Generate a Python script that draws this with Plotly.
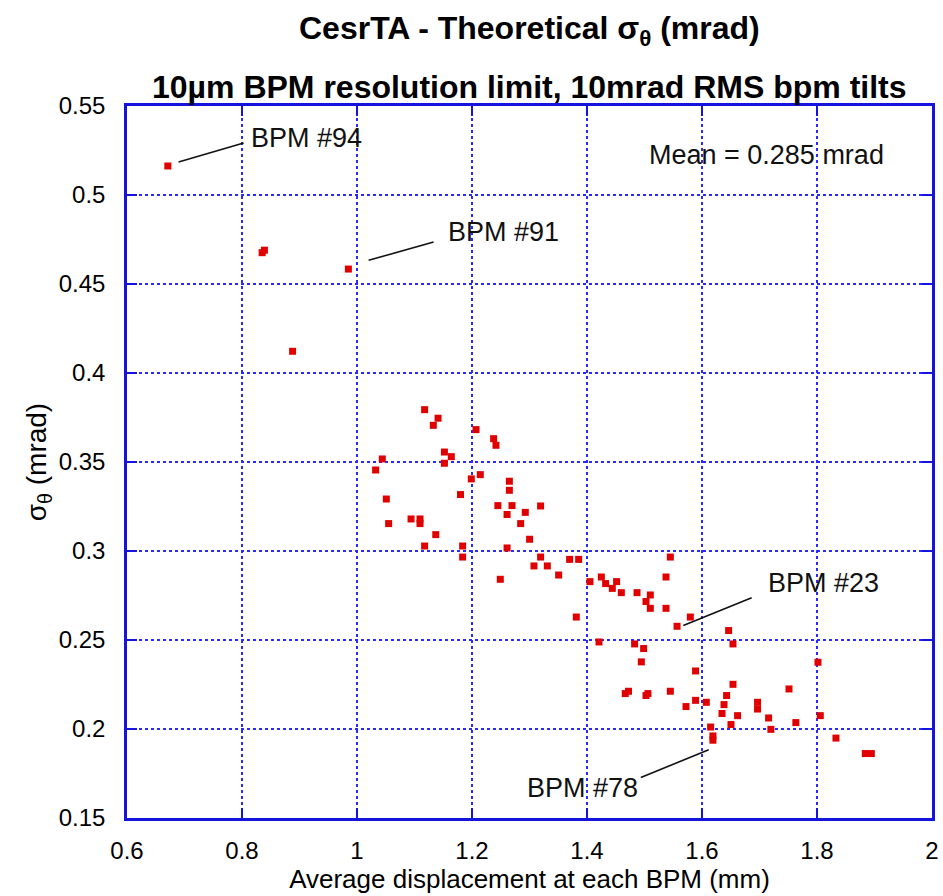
import plotly.graph_objects as go

# ---- data ----
disp_mm = [0.671, 0.835, 0.839, 0.985, 0.888, 1.1176, 1.141, 1.1327, 1.207, 1.2376,
           1.2417, 1.152, 1.164, 1.152, 1.044, 1.0324, 1.1988, 1.2144, 1.265, 1.265,
           1.18, 1.051, 1.245, 1.2696, 1.261, 1.3193, 1.2927, 1.2846, 1.094, 1.1096,
           1.1096, 1.055, 1.137, 1.3002, 1.1176, 1.1837, 1.1837, 1.261, 1.2492, 1.3193,
           1.3078, 1.331, 1.3507, 1.3698, 1.3855, 1.3814, 1.4052, 1.4249, 1.4324, 1.444,
           1.4515, 1.4597, 1.487, 1.5101, 1.5026, 1.5101, 1.5374, 1.5449, 1.5374, 1.5797,
           1.5566, 1.4209, 1.4828, 1.4985, 1.4945, 1.6463, 1.6539, 1.5888, 1.6539, 1.4665,
           1.4722, 1.5026, 1.506, 1.5449, 1.5888, 1.5722, 1.6075, 1.6428, 1.6383, 1.6348,
           1.6619, 1.6504, 1.6966, 1.6966, 1.615, 1.619, 1.619, 1.8017, 1.7513, 1.7158,
           1.7198, 1.7632, 1.8057, 1.833, 1.884, 1.8945]
sigma_mrad = [0.5163, 0.4676, 0.4690, 0.4584, 0.4122, 0.3794, 0.3746, 0.3706, 0.3682, 0.3631,
              0.3594, 0.3556, 0.3530, 0.3493, 0.3517, 0.3455, 0.3405, 0.3429, 0.3392, 0.3341,
              0.3317, 0.3292, 0.3255, 0.3255, 0.3205, 0.3253, 0.3217, 0.3154, 0.3180, 0.3180,
              0.3154, 0.3154, 0.3092, 0.3066, 0.3028, 0.3028, 0.2966, 0.3017, 0.2841, 0.2966,
              0.2916, 0.2916, 0.2865, 0.2953, 0.2953, 0.2629, 0.2828, 0.2854, 0.2817, 0.2790,
              0.2828, 0.2766, 0.2766, 0.2753, 0.2716, 0.2678, 0.2854, 0.2966, 0.2678, 0.2629,
              0.2577, 0.2489, 0.2478, 0.2452, 0.2377, 0.2553, 0.2478, 0.2326, 0.2251, 0.2199,
              0.2212, 0.2188, 0.2199, 0.2212, 0.2161, 0.2126, 0.2150, 0.2188, 0.2137, 0.2087,
              0.2075, 0.2025, 0.2150, 0.2112, 0.2011, 0.1961, 0.1937, 0.2375, 0.2225, 0.2062,
              0.1998, 0.2036, 0.2075, 0.1949, 0.1862, 0.1862]

x_ticks = [0.6, 0.8, 1.0, 1.2, 1.4, 1.6, 1.8, 2.0]
x_tick_labels = ["0.6", "0.8", "1", "1.2", "1.4", "1.6", "1.8", "2"]
y_ticks = [0.15, 0.2, 0.25, 0.3, 0.35, 0.4, 0.45, 0.5, 0.55]
y_tick_labels = ["0.15", "0.2", "0.25", "0.3", "0.35", "0.4", "0.45", "0.5", "0.55"]

# labelled BPMs: text, text position, leader line (near point -> near text)
bpm_labels = ["BPM #94", "BPM #91", "BPM #23", "BPM #78"]
label_pos = [(0.8127, 0.5319), (1.1553, 0.4790), (1.7118, 0.2819), (1.2927, 0.1667)]
leader_from = [(0.6897, 0.5185), (1.0202, 0.4633), (1.5675, 0.2582), (1.6117, 0.1883)]
leader_to = [(0.8028, 0.5292), (1.1332, 0.4736), (1.6864, 0.2738), (1.4936, 0.1728)]
mean_text = "Mean = 0.285 mrad"
mean_pos = (1.5043, 0.5223)

FONT = "Arial, Liberation Sans, sans-serif"
AX_BLUE = "#1414dc"
GRID_BLUE = "#2828ff"

fig = go.Figure()

# leader lines
lx, ly = [], []
for (fx, fy), (ex, ey) in zip(leader_from, leader_to):
    lx += [fx, ex, None]
    ly += [fy, ey, None]
fig.add_trace(go.Scatter(x=lx, y=ly, mode="lines",
                         line=dict(color="#111111", width=1.6),
                         showlegend=False, hoverinfo="skip"))

fig.add_trace(go.Scatter(
    x=disp_mm, y=sigma_mrad, mode="markers",
    marker=dict(symbol="square", size=7, color="#e00000", line=dict(width=0)),
    showlegend=False, hoverinfo="x+y"))

annotations = []
for txt, (tx, ty) in zip(bpm_labels, label_pos):
    annotations.append(dict(x=tx, y=ty, xref="x", yref="y", text=txt, showarrow=False,
                            xanchor="left", yanchor="middle",
                            font=dict(family=FONT, size=27, color="#111111")))
annotations.append(dict(x=mean_pos[0], y=mean_pos[1], xref="x", yref="y", text=mean_text,
                        showarrow=False, xanchor="left", yanchor="middle",
                        font=dict(family=FONT, size=27, color="#111111")))
# two-line bold title
annotations.append(dict(x=0.5, y=1.0 + (106 - 30) / 712, xref="paper", yref="paper",
                        text="<b>CesrTA - Theoretical σ<sub>θ</sub> (mrad)</b>",
                        showarrow=False, xanchor="center", yanchor="middle",
                        font=dict(family=FONT, size=32, color="#000000")))
annotations.append(dict(x=0.5, y=1.0 + (106 - 87) / 712, xref="paper", yref="paper",
                        text="<b>10µm BPM resolution limit, 10mrad RMS bpm tilts</b>",
                        showarrow=False, xanchor="center", yanchor="middle",
                        font=dict(family=FONT, size=32, color="#000000")))

axis_common = dict(
    showline=True, linecolor=AX_BLUE, linewidth=2.5, mirror="ticks",
    ticks="inside", ticklen=10, tickwidth=2, tickcolor=AX_BLUE,
    showgrid=True, gridcolor=GRID_BLUE, gridwidth=1.5, griddash="dot",
    zeroline=False, tickfont=dict(family=FONT, size=24, color="#000000"),
    automargin=False,
)

fig.update_layout(
    width=943, height=896,
    margin=dict(l=127, r=11, t=106, b=78),
    paper_bgcolor="white", plot_bgcolor="white",
    font=dict(family=FONT, color="#000000"),
    annotations=annotations,
    xaxis=dict(range=[0.6, 2.0], tickvals=x_ticks, ticktext=x_tick_labels,
               ticklabelstandoff=9,
               title=dict(text="Average displacement at each BPM (mm)",
                          font=dict(family=FONT, size=26), standoff=0),
               **axis_common),
    yaxis=dict(range=[0.15, 0.55], tickvals=y_ticks, ticktext=y_tick_labels,
               ticklabelstandoff=14,
               title=dict(text="σ<sub>θ</sub> (mrad)",
                          font=dict(family=FONT, size=28), standoff=4),
               **axis_common),
)

fig.write_html("out.html")
